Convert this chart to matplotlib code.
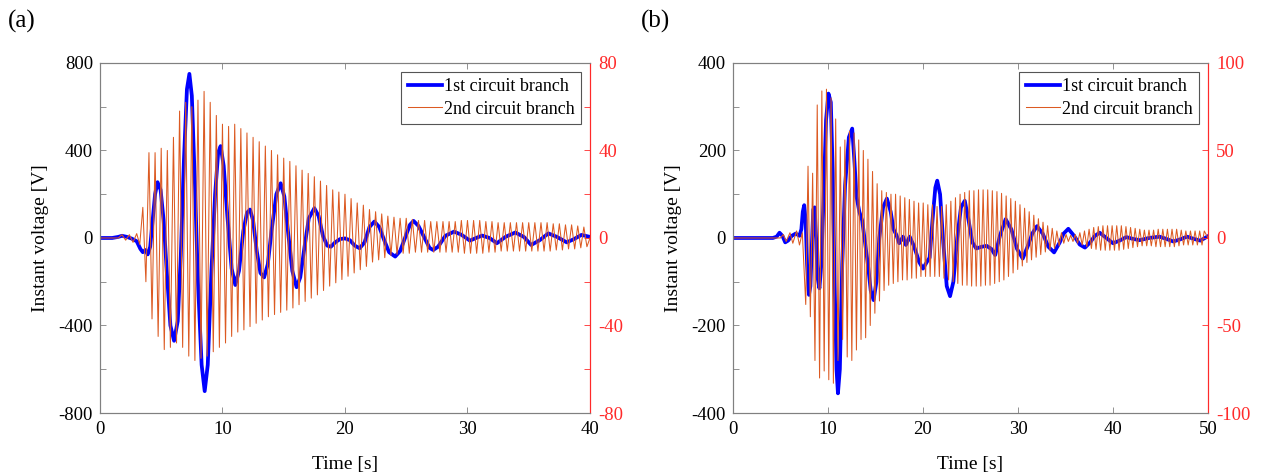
import numpy as np
import matplotlib
matplotlib.use("Agg")
from matplotlib import pyplot as plt
from matplotlib.ticker import MultipleLocator

plt.rcParams['font.family'] = ['Liberation Serif', 'DejaVu Serif']
plt.rcParams['axes.unicode_minus'] = False

# ---- (a) 1st branch: instant voltage [V] vs time [s]
a1_t = [0, 1.0, 1.5, 1.8, 2.2, 2.6, 3.0, 3.3, 3.5, 3.7, 3.9, 4.1, 4.3, 4.5, 4.7, 4.95,
        5.2, 5.45, 5.75, 6.05, 6.35, 6.6, 6.85, 7.1, 7.3, 7.5, 7.75, 8.0, 8.3, 8.55,
        8.8, 9.1, 9.4, 9.65, 9.85, 10.1, 10.4, 10.75, 11.05, 11.35, 11.7, 12.0, 12.25,
        12.5, 12.8, 13.1, 13.4, 13.7, 14.0, 14.4, 14.75, 15.05, 15.35, 15.7, 16.05,
        16.35, 16.7, 17.05, 17.5, 17.85, 18.2, 18.55, 18.85, 19.2, 19.6, 20.0, 20.4,
        20.8, 21.2, 21.6, 22.0, 22.4, 22.8, 23.2, 23.6, 24.1, 24.5, 24.9, 25.3, 25.6,
        26.0, 26.5, 26.9, 27.2, 27.6, 28.2, 28.9, 29.5, 30.2, 30.7, 31.2, 31.8, 32.4,
        33.1, 33.9, 34.6, 35.2, 35.9, 36.6, 37.3, 38.1, 38.7, 39.3, 40.0]
a1_v = [0, 0, 5, 10, 5, -3, -15, -50, -65, -55, -75, -40, 80, 200, 255, 220,
        80, -150, -400, -470, -380, -80, 350, 680, 750, 650, 250, -200, -580, -700,
        -580, -150, 200, 390, 420, 330, 100, -140, -215, -150, 30, 115, 130,
        80, -60, -160, -180, -120, 30, 200, 250, 190, 30, -150, -225,
        -180, -40, 90, 136, 100, 10, -35, -40, -20, -5, -2, -10,
        -35, -47, -20, 50, 75, 50, -10, -65, -85, -60, 0, 60, 78,
        55, 0, -45, -55, -40, 10, 29, 15, -12, 0, 11, 0, -24,
        5, 25, 5, -32, -10, 21, 5, -20, -5, 14, 5]

# ---- (a) 2nd branch: quiet lead-in, then one crest and one trough per cycle
a2_lead_t = [0, 1.5, 1.8, 2.1, 2.4, 2.7, 3.0, 3.25]
a2_lead_v = [0, 0, 1.5, -1, 1.5, -2, 2, -3]
a2_hi = [14, 39, 39, 41, 40, 46, 58, 62, 60, 63,
         67, 62, 56, 52, 51, 52, 50, 48, 46, 44,
         42, 40, 38, 36.5, 35, 33, 31, 29.5, 28, 26,
         24, 22, 21, 20, 18, 16, 15, 13, 12, 11,
         10, 9.5, 9, 9, 8.5, 8, 8, 7.5, 7.5, 7.5,
         7.5, 7.5, 8, 8, 8, 8, 7.5, 7.5, 7, 7,
         7, 7, 7, 7, 7, 7, 7, 6.5, 6.5, 6,
         6, 5.5, 5]
a2_lo = [-20, -37, -45, -51, -50, -48, -50, -54, -56, -55,
         -54, -52, -50, -48, -45, -43, -42, -40.5, -39, -37.5,
         -36, -35, -34, -33, -32, -30.5, -29, -27.5, -26, -24,
         -22, -20.5, -19, -17.5, -16, -14.5, -13, -11, -10, -9,
         -8, -7.5, -7, -7, -6.5, -6.5, -6.5, -6.5, -6.5, -6.5,
         -6.5, -6.5, -7, -7, -7, -7, -6.5, -6.5, -6, -6,
         -6, -6, -6, -6, -6, -6, -6, -5.5, -5.5, -5,
         -5, -4.5, -4]
a2_first_hi, a2_first_lo, a2_period = 3.5, 3.75, 0.5

# ---- (b) 1st branch
b1_t = [0, 4.2, 4.6, 4.9, 5.2, 5.5, 5.8, 6.2, 6.6, 7.0, 7.2, 7.35, 7.5, 7.65, 7.8,
        8.0, 8.15, 8.3, 8.45, 8.6, 8.75, 8.9, 9.1, 9.3, 9.55, 9.8, 10.05, 10.3, 10.5,
        10.7, 10.9, 11.05, 11.25, 11.5, 11.8, 12.2, 12.55, 12.8, 13.0, 13.3, 13.6,
        13.9, 14.2, 14.5, 14.8, 15.1, 15.4, 15.8, 16.2, 16.6, 16.9, 17.2, 17.5, 17.9,
        18.2, 18.6, 19.0, 19.3, 19.6, 20.0, 20.4, 20.7, 21.0, 21.3, 21.5, 21.8, 22.1,
        22.5, 22.85, 23.2, 23.6, 24.0, 24.4, 24.8, 25.2, 25.6, 26.2, 26.7, 27.2, 27.6,
        28.1, 28.7, 29.3, 29.9, 30.5, 31.1, 31.5, 32.0, 32.6, 33.2, 33.8, 34.4, 34.8,
        35.3, 35.9, 36.5, 37.05, 37.6, 38.1, 38.6, 39.3, 40.0, 40.7, 41.4, 42.1, 42.8,
        43.8, 44.9, 45.6, 46.35, 47.1, 47.8, 48.5, 49.2, 50.0]
b1_v = [0, 0, 3, 12, 5, -10, -6, 5, 10, 5, 20, 60, 75, 40, -60,
        -130, -110, -20, 65, 70, 0, -90, -115, -60, 100, 270, 330, 310, 150,
        -100, -300, -355, -300, -60, 120, 230, 250, 170, 95, 60, 40,
        -10, -60, -120, -142, -100, 0, 70, 90, 60, 20, 7, -12, 3,
        -16, 3, -16, -35, -55, -70, -55, -45, 40, 115, 131, 100, 0,
        -110, -133, -100, 0, 70, 85, 40, -10, -24, -20, -18, -25, -39,
        5, 43, 20, -25, -47, -15, 10, 27, 10, -20, -33, -10, 10,
        21, 5, -15, -22, -10, 5, 12, 0, -12, -6, 2, -2, -5,
        0, 3, -2, -8, -3, 3, -2, -6, 4]

# ---- (b) 2nd branch
b2_lead_t = [0, 5.0, 5.3, 5.6, 6.0, 6.3, 6.7, 7.0, 7.3]
b2_lead_v = [0, 0, 2, -2, 3, -3, 4, -4, 3]
b2_hi = [41, 37, 76, 84, 85, 80, 68, 52, 56, 61,
         60, 56, 50, 45, 38, 31, 27, 26, 25, 25,
         24, 23, 22, 21, 20, 20, 19, 19, 18, 18,
         19, 21, 23, 25, 26, 27, 27, 27.5, 27.5, 27.5,
         27, 26.5, 25.5, 24, 22.5, 21, 19, 17, 15, 13,
         11, 9, 7, 5.5, 4, 3, 2, 1.5, 2, 3,
         4, 5, 6, 6.5, 7, 7, 7, 7, 7, 6.5,
         6, 5.5, 5, 4.5, 4.5, 4.5, 5, 5, 5, 5,
         5, 4.5, 4, 4, 4, 4, 4]
b2_lo = [-38, -45, -70, -80, -76, -81, -83, -70, -58, -68,
         -70, -64, -58, -57, -50, -43, -36, -30, -27, -26,
         -25, -24, -24, -23, -23, -22, -22, -22, -22, -22,
         -23, -24, -25, -26, -27, -27, -27.5, -27.5, -27.5, -27,
         -27, -26, -25, -24, -22, -20, -18, -16, -14, -12.5,
         -11, -9.5, -8, -7, -6, -4.5, -3, -2, -2, -3,
         -4, -5, -6, -6.5, -7, -7, -7, -7, -7, -6.5,
         -6, -5.5, -5, -4.5, -4.5, -4.5, -5, -5, -5, -5,
         -5, -4.5, -4, -4, -4, -4, -4]
b2_first_hi, b2_first_lo, b2_period = 7.9, 7.66, 0.485


def branch2(lead_t, lead_v, hi, lo, t_hi, t_lo, period, t_end):
    # crests and troughs of the fast oscillation in time order
    th = t_hi + period * np.arange(len(hi))
    tl = t_lo + period * np.arange(len(lo))
    t = np.concatenate([lead_t, th, tl, [t_end]])
    v = np.concatenate([lead_v, hi, lo, [0]])
    order = np.argsort(t, kind='stable')
    return t[order], v[order]


GREY = '#808080'
RED = '#ff2a2a'
BLUE = '#0000ff'
ORANGE = '#dc5a22'


def panel(rect, t1, v1, t2, v2, xmax, ylim_l, lmaj, lmin, ylim_r, rmaj, rmin, tag):
    ax = fig.add_axes(rect)
    l1, = ax.plot(t1, v1, color=BLUE, lw=2.7, label='1st circuit branch', zorder=2)
    axr = ax.twinx()
    l2, = axr.plot(t2, v2, color=ORANGE, lw=0.75, label='2nd circuit branch')
    ax.set_xlim(0, xmax)
    ax.set_ylim(*ylim_l)
    axr.set_ylim(*ylim_r)
    ax.xaxis.set_major_locator(MultipleLocator(10))
    ax.yaxis.set_major_locator(MultipleLocator(lmaj))
    ax.yaxis.set_minor_locator(MultipleLocator(lmin))
    axr.yaxis.set_major_locator(MultipleLocator(rmaj))
    axr.yaxis.set_minor_locator(MultipleLocator(rmin))
    for a in (ax, axr):
        for s in a.spines.values():
            s.set_color(GREY)
            s.set_linewidth(0.8)
        a.spines['right'].set_color(RED)
    ax.tick_params(which='both', direction='in', length=4, width=0.6, color=GREY,
                   top=True, right=False, labelsize=13.5)
    ax.tick_params(axis='y', pad=5)
    ax.tick_params(axis='x', pad=6)
    axr.tick_params(which='both', direction='in', length=4, width=0.6, color=RED,
                    labelcolor=RED, labelsize=13.5, pad=6)
    axr.tick_params(axis='x', top=False, bottom=False)
    ax.set_xlabel('Time [s]', fontsize=14, labelpad=13)
    ax.set_ylabel('Instant voltage [V]', fontsize=14, labelpad=7)
    leg = axr.legend([l1, l2], [l1.get_label(), l2.get_label()], loc='upper right',
                     fontsize=13, frameon=True, fancybox=False, framealpha=1,
                     edgecolor='#555555', borderpad=0.35, labelspacing=0.3,
                     handlelength=1.9, handletextpad=0.1, borderaxespad=0.5)
    leg.get_frame().set_linewidth(0.8)
    fig.text(rect[0] - 0.073, 0.955, tag, fontsize=18, va='center', ha='left')
    return ax


fig = plt.figure(figsize=(12.62, 4.75), dpi=100)

ta, va = branch2(a2_lead_t, a2_lead_v, a2_hi, a2_lo, a2_first_hi, a2_first_lo, a2_period, 40)
panel([0.0792, 0.1305, 0.3883, 0.737], a1_t, a1_v, ta, va, 40,
      (-800, 800), 400, 200, (-80, 80), 40, 20, '(a)')

tb, vb = branch2(b2_lead_t, b2_lead_v, b2_hi, b2_lo, b2_first_hi, b2_first_lo, b2_period, 50)
panel([0.5808, 0.1305, 0.3764, 0.737], b1_t, b1_v, tb, vb, 50,
      (-400, 400), 200, 100, (-100, 100), 50, 50, '(b)')

plt.savefig('out.png', dpi=100)
